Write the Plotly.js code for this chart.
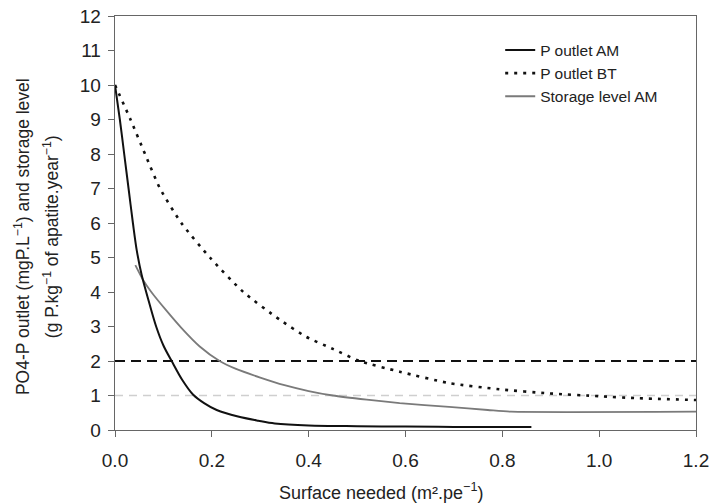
<!DOCTYPE html>
<html>
<head>
<meta charset="utf-8">
<script src="https://cdn.plot.ly/plotly-3.0.1.min.js"></script>
<style>html,body{margin:0;padding:0;background:#fff;}#chart{width:711px;height:504px;}</style>
</head>
<body>
<div id="chart"></div>
<script>
// P outlet AM (black solid)
const amX = [0, 0.01, 0.019, 0.028, 0.037, 0.045, 0.055, 0.069, 0.085, 0.1, 0.117, 0.139, 0.161, 0.184, 0.21, 0.254, 0.296, 0.33, 0.4, 0.5, 0.6, 0.7, 0.86];
const amY = [10, 9, 8, 7, 6, 5.2, 4.5, 3.77, 3, 2.45, 2, 1.45, 1.03, 0.78, 0.58, 0.39, 0.27, 0.19, 0.13, 0.11, 0.1, 0.09, 0.09];
// P outlet BT (black dotted)
const btX = [0, 0.032, 0.062, 0.093, 0.137, 0.196, 0.265, 0.34, 0.395, 0.45, 0.505, 0.588, 0.69, 0.794, 0.897, 1.0, 1.082, 1.2];
const btY = [10, 9, 8, 7, 6, 5, 4, 3.2, 2.7, 2.35, 2, 1.69, 1.36, 1.18, 1.06, 0.98, 0.92, 0.87];
// Storage level AM (grey solid)
const stX = [0.042, 0.058, 0.075, 0.105, 0.137, 0.175, 0.216, 0.25, 0.3, 0.35, 0.4, 0.45, 0.52, 0.588, 0.69, 0.77, 0.818, 1.2];
const stY = [4.78, 4.35, 4, 3.48, 2.96, 2.42, 2, 1.77, 1.52, 1.3, 1.13, 1.0, 0.88, 0.78, 0.67, 0.58, 0.53, 0.53];
// Reference levels
const refX = [0, 1.2];
const ref2Y = [2, 2];
const ref1Y = [1, 1];
const xTicks = [0, 0.2, 0.4, 0.6, 0.8, 1.0, 1.2];
const xTickText = ["0.0", "0.2", "0.4", "0.6", "0.8", "1.0", "1.2"];
const yTicks = [0,1,2,3,4,5,6,7,8,9,10,11,12];

const traces = [
  {x: refX, y: ref2Y, mode: 'lines', line: {color: '#111', width: 2, dash: '10px,6px'}, showlegend: false, hoverinfo: 'skip'},
  {x: refX, y: ref1Y, mode: 'lines', line: {color: '#cfcfcf', width: 1.6, dash: '8px,6px'}, showlegend: false, hoverinfo: 'skip'},
  {x: stX, y: stY, mode: 'lines', name: 'Storage level AM', line: {color: '#7a7a7a', width: 1.8, shape: 'spline', smoothing: 0.6}, legendrank: 3},
  {x: btX, y: btY, mode: 'lines', name: 'P outlet BT', line: {color: '#111', width: 2.6, dash: '3px,6px', shape: 'spline', smoothing: 0.6}, legendrank: 2},
  {x: amX, y: amY, mode: 'lines', name: 'P outlet AM', line: {color: '#111', width: 2, shape: 'spline', smoothing: 0.9}, legendrank: 1}
];

const fontFam = 'Liberation Sans, Arial, sans-serif';
const layout = {
  width: 711, height: 504,
  margin: {l: 115, r: 15, t: 16, b: 74},
  paper_bgcolor: '#fff', plot_bgcolor: '#fff',
  font: {family: fontFam, color: '#222', size: 19},
  showlegend: true,
  legend: {x: 0.663, y: 0.958, xanchor: 'left', yanchor: 'top', bgcolor: 'rgba(0,0,0,0)', font: {size: 15.5, color: '#222'}, tracegroupgap: 0, itemwidth: 30},
  xaxis: {
    range: [0, 1.2], tickvals: xTicks, ticktext: xTickText, ticks: 'outside', ticklen: 6, tickcolor: '#666',
    showline: true, linecolor: '#666', linewidth: 1.3, mirror: true, showgrid: false, zeroline: false,
    tickfont: {size: 19, color: '#222'}, ticklabelstandoff: 7
  },
  yaxis: {
    range: [0, 12], tickvals: yTicks, ticks: 'outside', ticklen: 6, tickcolor: '#666',
    showline: true, linecolor: '#666', linewidth: 1.3, mirror: true, showgrid: false, zeroline: false,
    tickfont: {size: 19, color: '#222'}, ticklabelstandoff: 3
  },
  annotations: [
    {text: 'Surface needed (m².pe<sup>\u22121</sup>)', xref: 'paper', yref: 'paper', x: 0.458, y: -0.18, xanchor: 'center', yanchor: 'bottom', showarrow: false, font: {size: 18, color: '#222'}},
    {text: 'PO4-P outlet (mgP.L<sup>\u22121</sup>) and storage level', xref: 'paper', yref: 'paper', x: -0.160, y: 0.466, xanchor: 'center', yanchor: 'middle', textangle: -90, showarrow: false, font: {size: 17.5, color: '#222'}},
    {text: '(g P.kg<sup>\u22121</sup> of apatite.year<sup>\u22121</sup>)', xref: 'paper', yref: 'paper', x: -0.110, y: 0.466, xanchor: 'center', yanchor: 'middle', textangle: -90, showarrow: false, font: {size: 17.5, color: '#222'}}
  ]
};

Plotly.newPlot('chart', traces, layout, {displayModeBar: false, staticPlot: true});
</script>
</body>
</html>
